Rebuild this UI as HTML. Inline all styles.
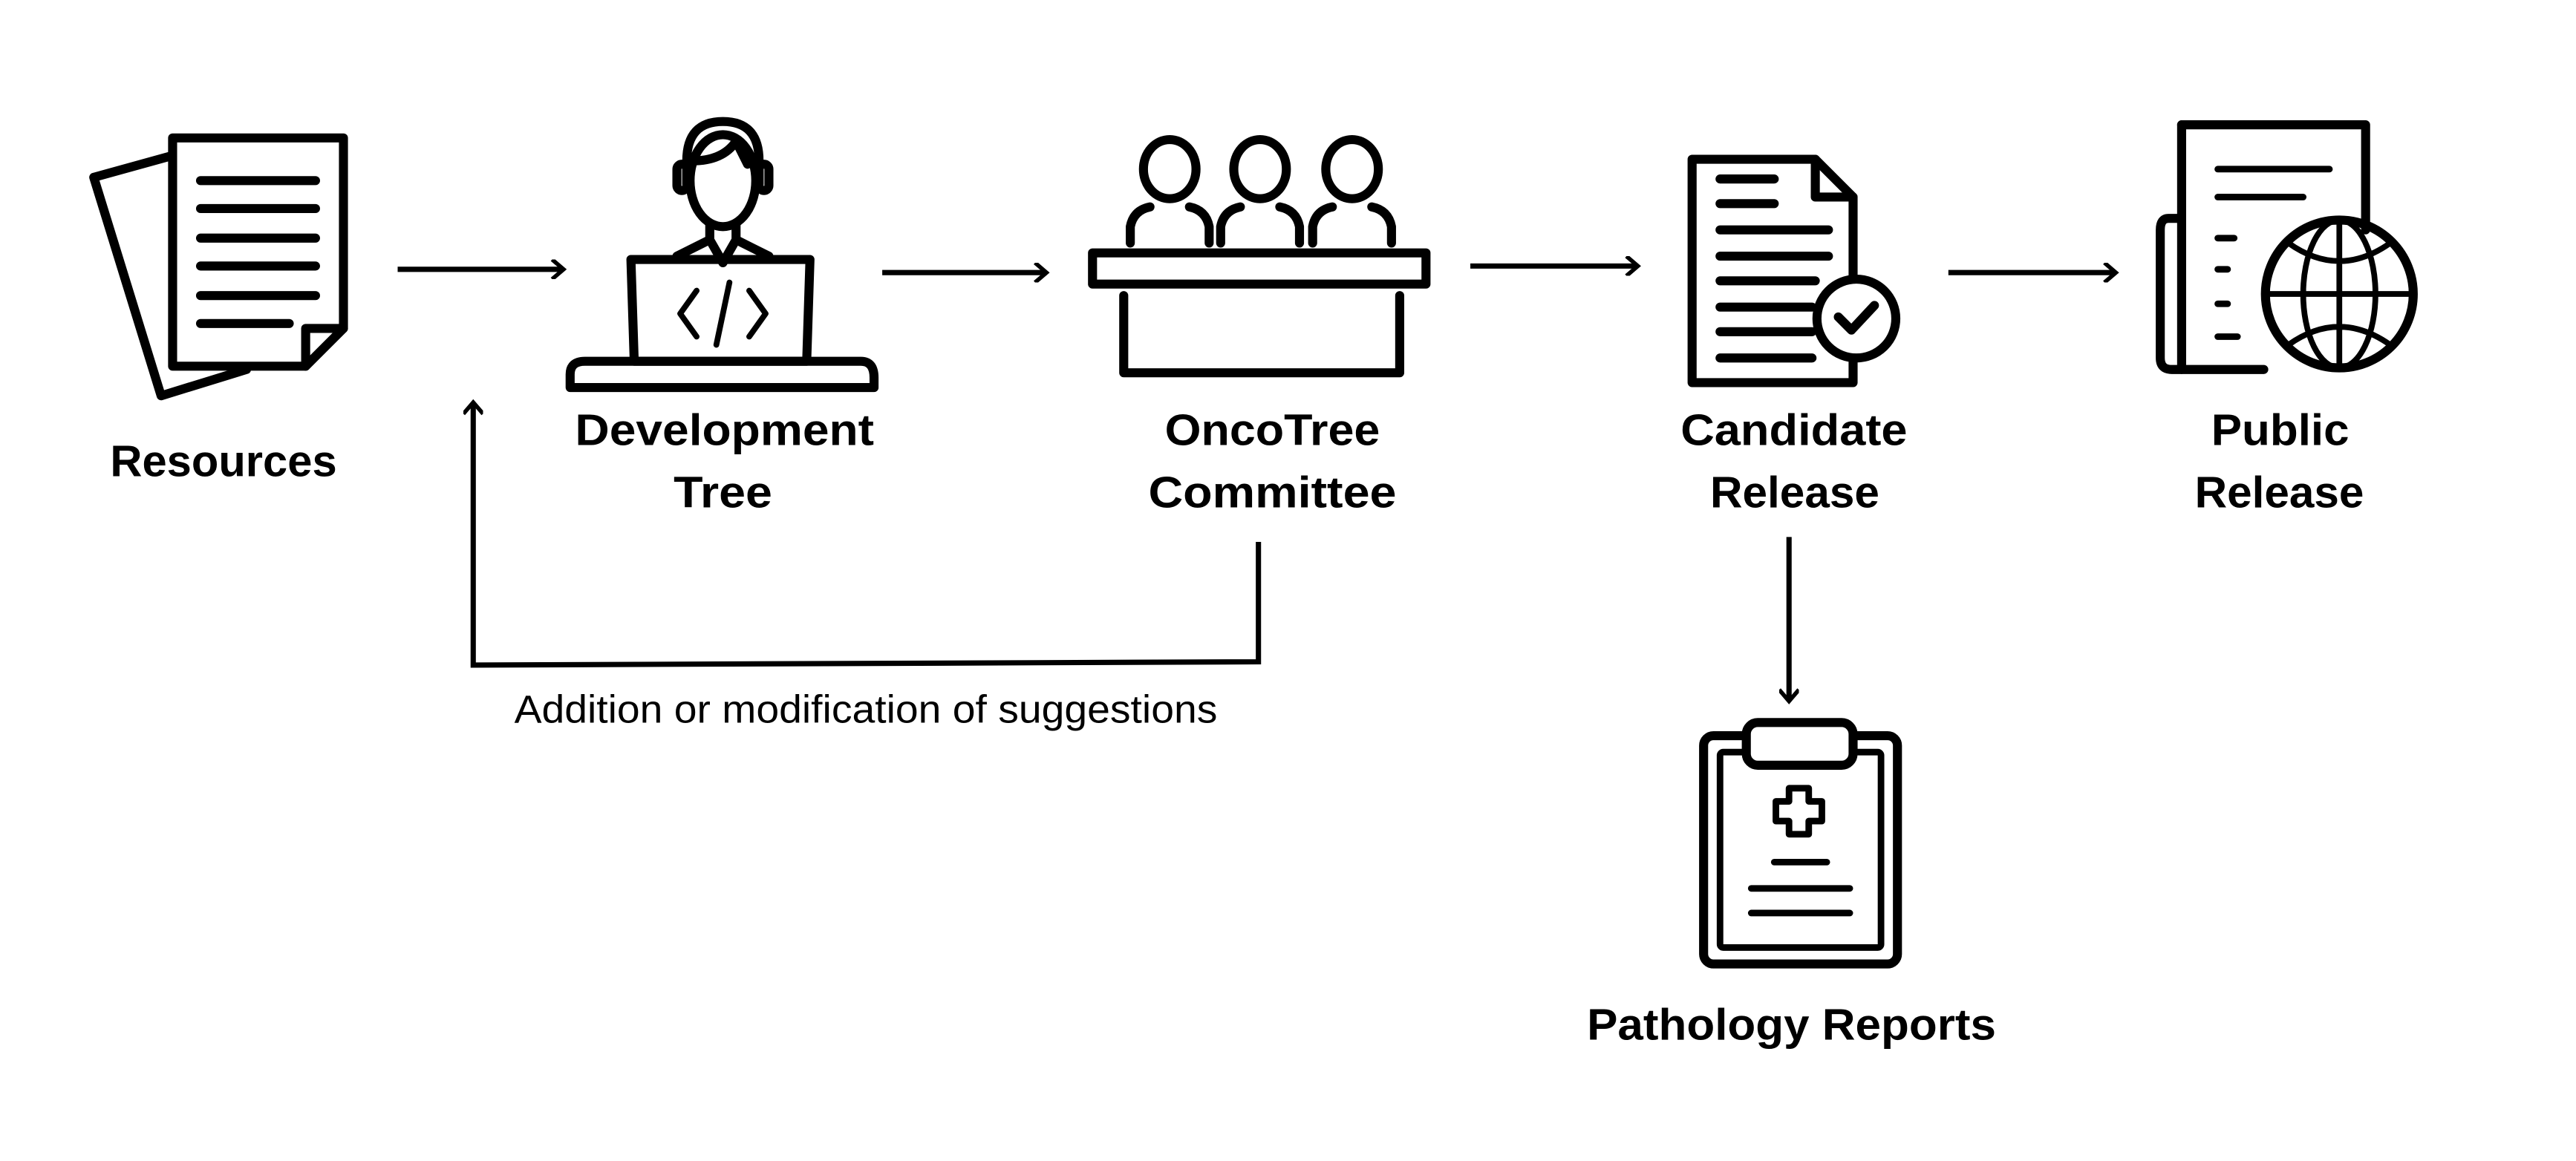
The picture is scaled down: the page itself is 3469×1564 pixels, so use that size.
<!DOCTYPE html>
<html><head><meta charset="utf-8"><style>
html,body{margin:0;padding:0;background:#fff;width:3469px;height:1564px;overflow:hidden}
svg{display:block}
text{font-family:"Liberation Sans",sans-serif;fill:#000}
.b{font-weight:bold;font-size:27px}
</style></head><body>
<svg width="3469" height="1564" viewBox="0 0 1568 707" xmlns="http://www.w3.org/2000/svg">
<defs><marker id="ah" markerWidth="12" markerHeight="12" refX="9" refY="6" orient="auto" markerUnits="userSpaceOnUse"><path d="M2,0 L9,6 L2,12" fill="none" stroke="#000" stroke-width="2.5"/></marker></defs>
<g fill="none" stroke="#000" stroke-width="5.5" stroke-linejoin="round" stroke-linecap="round">
<path d="M104,95 L57,108 L98,241 L150,225"/>
<path d="M105,84 L209,84 L209,200 L186,223 L105,223 Z"/>
<path d="M186,223 L186,200 L209,200"/>
<path d="M122,110H192M122,127H192M122,145H192M122,162H192M122,180H192M122,197H176"/>
<path d="M418,112 V98 Q418,74 440,74 Q462,74 462,98 V112"/>
<ellipse cx="440" cy="110" rx="20" ry="28"/>
<path d="M421,98 Q440,98 448,86 L455,100"/>
<rect x="412" y="100" width="6" height="16" rx="3"/>
<rect x="462" y="100" width="6" height="16" rx="3"/>
<path d="M432,137 V146 L412,156 M448,137 V146 L468,156 M432,146 L440,160 L448,146"/>
<path d="M384,158 H493 L491,220 H386 Z"/>
<path d="M347,236 V228 Q347,220 356,220 H524 Q532,220 532,230 V236 Z"/>
<path d="M424,177 L414,191 L424,205 M456,177 L466,191 L456,205 M444,172 L436,210" stroke-width="3.5"/>
<ellipse cx="712" cy="103" rx="16" ry="18"/>
<ellipse cx="767" cy="103" rx="16" ry="18"/>
<ellipse cx="823" cy="103" rx="16" ry="18"/>
<path d="M688,148 V138 Q690,128 700,126 M724,126 Q734,128 736,138 V148 M743,148 V138 Q745,128 755,126 M779,126 Q789,128 791,138 V148 M799,148 V138 Q801,128 811,126 M835,126 Q845,128 847,138 V148"/>
<rect x="665" y="154" width="203" height="19"/>
<path d="M684,180 V227 H852 V180"/>
<path d="M1030,97 H1105 L1128,120 V233 H1030 Z"/>
<path d="M1105,97 V120 H1128"/>
<path d="M1047,109H1080M1047,124H1080M1047,140H1113M1047,156H1113M1047,171H1105M1047,187H1103M1047,202H1103M1047,218H1103"/>
<circle cx="1130" cy="194" r="24" fill="#fff"/>
<path d="M1119,193 L1127,201 L1141,186"/>
<path d="M1328,76 H1440 V140"/>
<path d="M1328,76 V225 H1378"/>
<path d="M1328,133 H1320 Q1315,133 1315,140 V218 Q1315,225 1322,225 H1328"/>
<path d="M1350,103H1418M1350,120H1402M1350,145H1360M1350,164H1356M1350,185H1356M1350,205H1362" stroke-width="4"/>
<circle cx="1424" cy="179" r="45"/>
<ellipse cx="1424" cy="179" rx="22" ry="45" stroke-width="3.5"/>
<path d="M1424,134 V224 M1379,179 H1469 M1393,148 Q1424,170 1455,148 M1393,210 Q1424,188 1455,210" stroke-width="3.5"/>
<rect x="1037" y="448" width="118" height="139" rx="6"/>
<rect x="1047" y="458" width="98" height="119" rx="2" stroke-width="4"/>
<rect x="1063" y="440" width="65" height="26" rx="7" fill="#fff"/>
<path d="M1089,480 H1101 V488 H1109 V500 H1101 V508 H1089 V500 H1081 V488 H1089 Z" stroke-width="4"/>
<path d="M1080,525H1112M1066,541H1126M1066,556H1126" stroke-width="4"/>
</g>
<g fill="none" stroke="#000" stroke-width="3.2">
<path d="M242,164 H343" marker-end="url(#ah)"/>
<path d="M537,166 H637" marker-end="url(#ah)"/>
<path d="M895,162 H997" marker-end="url(#ah)"/>
<path d="M1186,166 H1288" marker-end="url(#ah)"/>
<path d="M1089,327 V427" marker-end="url(#ah)"/>
<path d="M766,330 V403 L288,405 V245" marker-end="url(#ah)"/>
</g>
<text class="b" x="67" y="290" textLength="138" lengthAdjust="spacingAndGlyphs">Resources</text>
<text class="b" x="350" y="271" textLength="182" lengthAdjust="spacingAndGlyphs">Development</text>
<text class="b" x="410" y="309" textLength="60" lengthAdjust="spacingAndGlyphs">Tree</text>
<text class="b" x="709" y="271" textLength="131" lengthAdjust="spacingAndGlyphs">OncoTree</text>
<text class="b" x="699" y="309" textLength="151" lengthAdjust="spacingAndGlyphs">Committee</text>
<text class="b" x="1023" y="271" textLength="138" lengthAdjust="spacingAndGlyphs">Candidate</text>
<text class="b" x="1041" y="309" textLength="103" lengthAdjust="spacingAndGlyphs">Release</text>
<text class="b" x="1346" y="271" textLength="84" lengthAdjust="spacingAndGlyphs">Public</text>
<text class="b" x="1336" y="309" textLength="103" lengthAdjust="spacingAndGlyphs">Release</text>
<text class="b" x="966" y="633" textLength="249" lengthAdjust="spacingAndGlyphs">Pathology Reports</text>
<text x="313" y="440" font-size="24" textLength="428" lengthAdjust="spacingAndGlyphs">Addition or modification of suggestions</text>
</svg>
</body></html>
